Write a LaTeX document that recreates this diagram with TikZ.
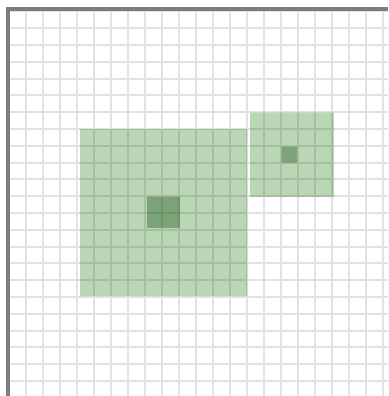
\documentclass[tikz,border=0pt]{standalone}
\definecolor{lightgreen}{RGB}{186,215,181}
\definecolor{darkgreen}{RGB}{124,164,120}
\definecolor{bordergray}{RGB}{125,125,125}
\definecolor{gridgray}{RGB}{226,226,226}
\definecolor{gridgreen}{RGB}{168,190,163}
\definecolor{griddark}{RGB}{112,146,108}
\tikzset{
  gridline/.style={draw=gridgray, line width=2pt},
  lightcell/.style={fill=lightgreen},
  darkcell/.style={fill=darkgreen},
  frame/.style={draw=bordergray, line width=4pt}
}
\newcommand{\gridlines}{%
  \foreach \k in {0,...,22} {
    \draw ({9+17*\k},9) -- ({9+17*\k},396);
  }
  \foreach \k in {0,...,23} {
    \draw (8,{11.4+16.8*\k}) -- (388,{11.4+16.8*\k});
  }%
}
\begin{document}
\begin{tikzpicture}[x=1pt,y=-1pt]
\useasboundingbox (0,0) rectangle (388,396);
\fill[white] (0,0) rectangle (388,396);
% grid on white
\begin{scope}[gridline]
\gridlines
\end{scope}
% green regions
\fill[lightcell] (80,129) rectangle (247,296);
\fill[lightcell] (250,112.5) rectangle (334,197);
\fill[darkcell] (146.5,196.5) rectangle (180,228);
\fill[darkcell] (281.5,146.5) rectangle (297,162.5);
% grid over light green
\begin{scope}
\clip (80,129) rectangle (247,296) (250,112.5) rectangle (334,197);
\begin{scope}[gridline, draw=gridgreen]
\gridlines
\end{scope}
\end{scope}
% grid over dark green
\begin{scope}
\clip (146.5,196.5) rectangle (180,228) (281.5,146.5) rectangle (297,162.5);
\begin{scope}[gridline, draw=griddark]
\gridlines
\end{scope}
\end{scope}
% frame
\draw[frame] (8,396) -- (8,9) -- (388,9);
\end{tikzpicture}
\end{document}
